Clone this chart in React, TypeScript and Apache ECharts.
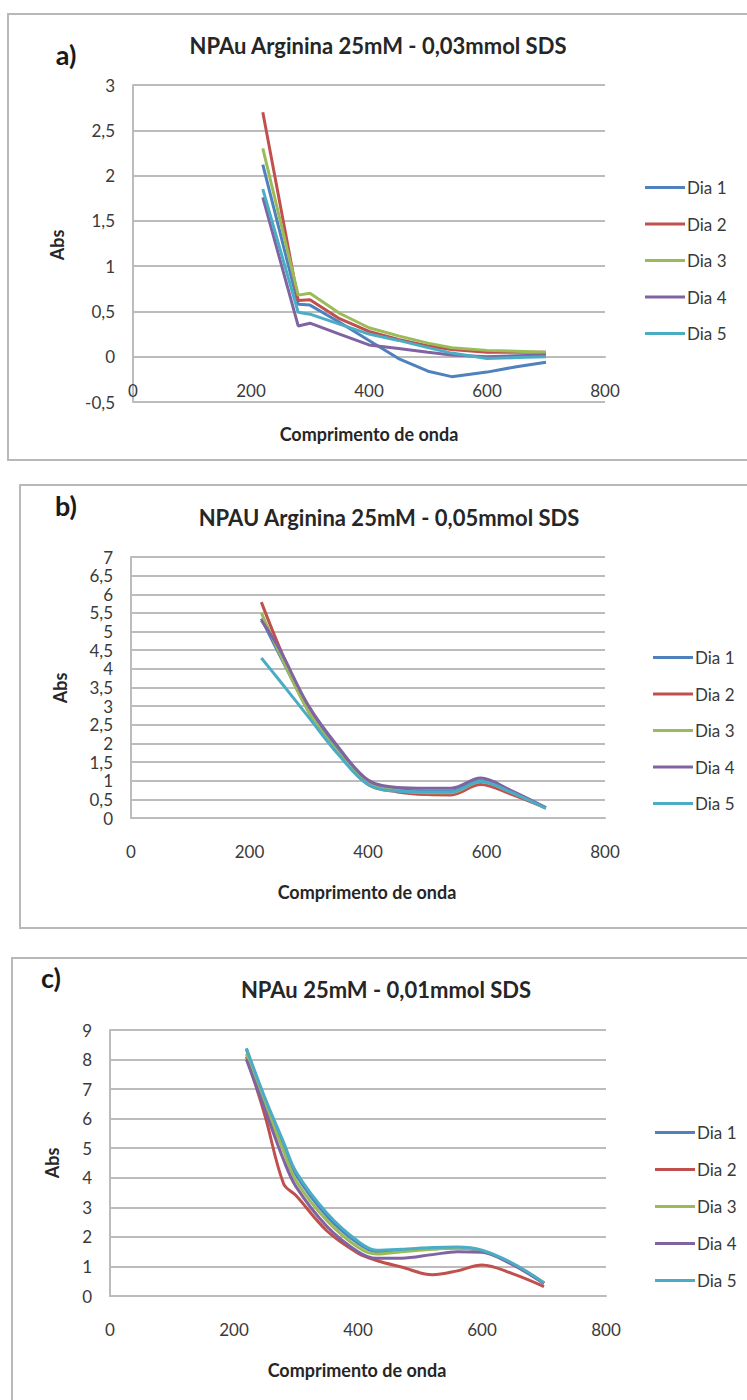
import { useEffect, useRef } from "react";
import * as echarts from "echarts";

// Series names and Excel-style palette
const DAYS = ["Dia 1", "Dia 2", "Dia 3", "Dia 4", "Dia 5"];
const COLORS = ["#4F81BD", "#C0504D", "#9BBB59", "#8064A2", "#4BACC6"];
const X_TICKS = [0, 200, 400, 600, 800];

// a) NPAu Arginina 25mM - 0,03mmol SDS
const WL_A = [220, 280, 300, 350, 400, 450, 500, 540, 600, 650, 700];
const A_DIA1 = [2.12, 0.58, 0.57, 0.38, 0.18, -0.02, -0.16, -0.22, -0.17, -0.11, -0.06];
const A_DIA2 = [2.7, 0.62, 0.63, 0.42, 0.28, 0.19, 0.12, 0.08, 0.05, 0.05, 0.05];
const A_DIA3 = [2.3, 0.68, 0.7, 0.48, 0.32, 0.23, 0.15, 0.1, 0.07, 0.06, 0.05];
const A_DIA4 = [1.76, 0.34, 0.37, 0.25, 0.13, 0.09, 0.05, 0.02, 0.0, 0.01, 0.02];
const A_DIA5 = [1.85, 0.49, 0.47, 0.36, 0.25, 0.18, 0.1, 0.04, -0.02, -0.01, 0.0];

// b) NPAU Arginina 25mM - 0,05mmol SDS
const WL_B = [220, 250, 300, 350, 400, 450, 500, 540, 590, 640, 700];
const B_DIA1 = [5.35, 4.4, 2.9, 1.8, 0.95, 0.78, 0.72, 0.72, 1.0, 0.72, 0.27];
const B_DIA2 = [5.79, 4.6, 2.85, 1.75, 0.9, 0.7, 0.63, 0.62, 0.9, 0.65, 0.27];
const B_DIA3 = [5.5, 4.45, 2.85, 1.75, 0.92, 0.74, 0.68, 0.68, 0.97, 0.7, 0.27];
const B_DIA4 = [5.3, 4.55, 3.0, 1.9, 1.02, 0.82, 0.8, 0.8, 1.07, 0.75, 0.28];
const B_DIA5 = [4.29, 3.7, 2.7, 1.7, 0.9, 0.72, 0.7, 0.7, 0.98, 0.7, 0.26];

// c) NPAu 25mM - 0,01mmol SDS
const WL_C = [220, 250, 280, 300, 350, 400, 430, 470, 520, 560, 600, 650, 700];
const C_DIA1 = [8.35, 6.6, 5.1, 4.1, 2.7, 1.78, 1.5, 1.55, 1.6, 1.62, 1.52, 1.08, 0.43];
const C_DIA2 = [8.1, 6.1, 3.8, 3.4, 2.2, 1.45, 1.2, 0.98, 0.72, 0.85, 1.05, 0.75, 0.32];
const C_DIA3 = [8.2, 6.5, 4.9, 3.9, 2.55, 1.65, 1.42, 1.5, 1.58, 1.62, 1.52, 1.08, 0.44];
const C_DIA4 = [8.0, 6.3, 4.6, 3.7, 2.35, 1.5, 1.28, 1.28, 1.4, 1.5, 1.48, 1.05, 0.42];
const C_DIA5 = [8.38, 6.7, 5.2, 4.2, 2.8, 1.85, 1.55, 1.58, 1.64, 1.66, 1.55, 1.1, 0.45];

const FONT = "Lato, 'Open Sans', sans-serif";
const TEXT = "#3a3a3a";
const GRID_LINE = "#bcbcbc";

type Panel = {
  letter: string;
  title: string;
  wl: number[];
  values: number[][];
  yMin: number;
  yMax: number;
  yStep: number;
  smooth: number | boolean;
  grid: { left: number; top: number; width: number; height: number };
  frame: { x: number; y: number; width: number; height: number };
  titlePos: [number, number];
  letterPos: [number, number];
  absPos: [number, number];
  xNamePos: [number, number];
  legendPos: [number, number];
  legendGap: number;
};

const PANELS: Panel[] = [
  {
    letter: "a)",
    title: "NPAu Arginina 25mM - 0,03mmol SDS",
    wl: WL_A,
    values: [A_DIA1, A_DIA2, A_DIA3, A_DIA4, A_DIA5],
    yMin: -0.5,
    yMax: 3,
    yStep: 0.5,
    smooth: false,
    grid: { left: 133, top: 85, width: 472, height: 317 },
    frame: { x: 8, y: 14, width: 800, height: 446 },
    titlePos: [378, 45],
    letterPos: [66, 54],
    absPos: [57, 245],
    xNamePos: [369, 434],
    legendPos: [645, 179],
    legendGap: 19.5,
  },
  {
    letter: "b)",
    title: "NPAU Arginina 25mM - 0,05mmol SDS",
    wl: WL_B,
    values: [B_DIA1, B_DIA2, B_DIA3, B_DIA4, B_DIA5],
    yMin: 0,
    yMax: 7,
    yStep: 0.5,
    smooth: 0.35,
    grid: { left: 131, top: 557, width: 474, height: 261 },
    frame: { x: 20, y: 485, width: 800, height: 443 },
    titlePos: [389, 517],
    letterPos: [66, 505],
    absPos: [60, 688],
    xNamePos: [367, 892],
    legendPos: [653, 649],
    legendGap: 19.5,
  },
  {
    letter: "c)",
    title: "NPAu 25mM - 0,01mmol SDS",
    wl: WL_C,
    values: [C_DIA1, C_DIA2, C_DIA3, C_DIA4, C_DIA5],
    yMin: 0,
    yMax: 9,
    yStep: 1,
    smooth: 0.35,
    grid: { left: 110, top: 1030, width: 496, height: 266 },
    frame: { x: 12, y: 958, width: 800, height: 500 },
    titlePos: [386, 989],
    letterPos: [51, 977],
    absPos: [52, 1163],
    xNamePos: [357, 1370],
    legendPos: [655, 1124],
    legendGap: 20,
  },
];

const commaLabel = (v: number) => String(v).replace(".", ",");

function buildOption() {
  const grids: any[] = [];
  const xAxes: any[] = [];
  const yAxes: any[] = [];
  const series: any[] = [];
  const legends: any[] = [];
  const graphics: any[] = [];

  PANELS.forEach((p, i) => {
    grids.push({ ...p.grid, containLabel: false });

    // The horizontal axis crosses the vertical one at Abs = 0
    const zeroOffset = (p.yMin / (p.yMax - p.yMin)) * p.grid.height;

    xAxes.push({
      type: "value",
      gridIndex: i,
      min: X_TICKS[0],
      max: X_TICKS[X_TICKS.length - 1],
      interval: 200,
      offset: zeroOffset,
      axisLine: { show: true, onZero: false, lineStyle: { color: GRID_LINE, width: 2 } },
      axisTick: { show: false },
      splitLine: { show: false },
      axisLabel: { color: TEXT, fontFamily: FONT, fontSize: 17, margin: 25 },
    });

    yAxes.push({
      type: "value",
      gridIndex: i,
      min: p.yMin,
      max: p.yMax,
      interval: p.yStep,
      axisLine: { show: true, onZero: false, lineStyle: { color: GRID_LINE, width: 2 } },
      axisTick: { show: false },
      splitLine: { show: true, lineStyle: { color: GRID_LINE, width: 2 } },
      axisLabel: {
        color: TEXT,
        fontFamily: FONT,
        fontSize: 17,
        margin: 18,
        formatter: commaLabel,
      },
    });

    p.values.forEach((vals, k) => {
      series.push({
        type: "line",
        name: DAYS[k],
        xAxisIndex: i,
        yAxisIndex: i,
        data: p.wl.map((w, j) => [w, vals[j]]),
        smooth: p.smooth,
        symbol: "none",
        color: COLORS[k],
        lineStyle: { color: COLORS[k], width: 3 },
        z: 3 + k,
      });
    });

    legends.push({
      orient: "vertical",
      left: p.legendPos[0],
      top: p.legendPos[1],
      padding: 0,
      icon: "rect",
      itemWidth: 40,
      itemHeight: 3,
      itemGap: p.legendGap,
      selectedMode: false,
      data: DAYS,
      textStyle: { color: TEXT, fontFamily: FONT, fontSize: 17, padding: [0, 0, 0, -3] },
    });

    graphics.push(
      {
        type: "rect",
        shape: { ...p.frame },
        style: { fill: "none", stroke: "#b8b8b8", lineWidth: 2 },
        silent: true,
      },
      {
        type: "text",
        x: p.titlePos[0],
        y: p.titlePos[1],
        style: {
          text: p.title,
          fill: "#262626",
          font: `bold 22px ${FONT}`,
          align: "center",
          verticalAlign: "middle",
        },
      },
      {
        type: "text",
        x: p.letterPos[0],
        y: p.letterPos[1],
        style: {
          text: p.letter,
          fill: "#1a1a1a",
          font: `bold 27px ${FONT}`,
          align: "center",
          verticalAlign: "middle",
        },
      },
      {
        type: "text",
        x: p.absPos[0],
        y: p.absPos[1],
        rotation: Math.PI / 2,
        style: {
          text: "Abs",
          fill: "#262626",
          font: `bold 18px ${FONT}`,
          align: "center",
          verticalAlign: "middle",
        },
      },
      {
        type: "text",
        x: p.xNamePos[0],
        y: p.xNamePos[1],
        style: {
          text: "Comprimento de onda",
          fill: "#262626",
          font: `bold 18px ${FONT}`,
          align: "center",
          verticalAlign: "middle",
        },
      }
    );
  });

  return {
    animation: false,
    backgroundColor: "#ffffff",
    grid: grids,
    xAxis: xAxes,
    yAxis: yAxes,
    legend: legends,
    series,
    graphic: graphics,
  };
}

export default function App() {
  const ref = useRef<HTMLDivElement>(null);

  useEffect(() => {
    if (!ref.current) return;
    const chart = echarts.init(ref.current, undefined, { renderer: "svg" });
    chart.setOption(buildOption());
    return () => chart.dispose();
  }, []);

  return (
    <div
      ref={ref}
      style={{ position: "absolute", left: 0, top: 0, width: 747, height: 1400, background: "#fff" }}
    />
  );
}
